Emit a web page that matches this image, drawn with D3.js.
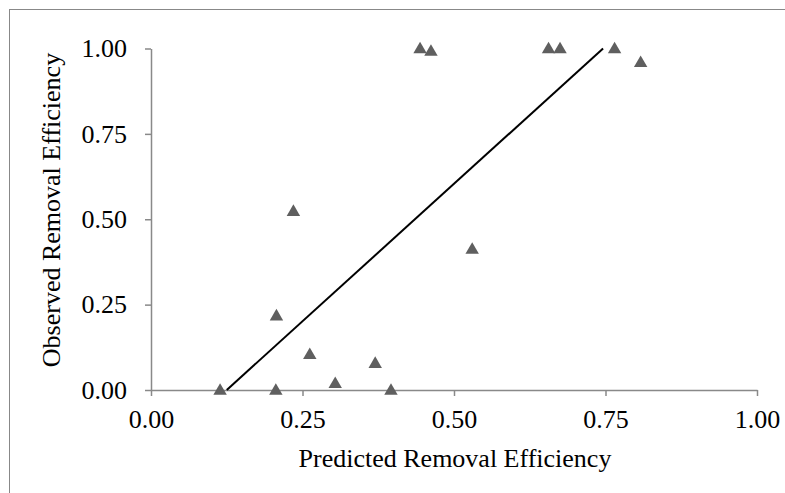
<!DOCTYPE html>
<html>
<head>
<meta charset="utf-8">
<script src="https://cdn.jsdelivr.net/npm/d3@7"></script>
<style>
  html, body { margin: 0; padding: 0; background: #fff; }
  svg { display: block; }
  text { font-family: "Liberation Serif", "Times New Roman", serif; fill: #000; }
</style>
</head>
<body>
<svg id="chart" width="785" height="493"></svg>
<script>
// Data
const predicted = [0.114, 0.206, 0.262, 0.304, 0.370, 0.396, 0.207, 0.235, 0.530, 0.444, 0.462, 0.656, 0.675, 0.765, 0.808];
const observed  = [0.000, 0.000, 0.105, 0.020, 0.079, 0.000, 0.218, 0.524, 0.413, 1.000, 0.993, 1.000, 1.000, 1.000, 0.960];
const fitX = [0.125, 0.746];
const fitY = [0.000, 1.000];
const xTicks = [0, 0.25, 0.5, 0.75, 1.0];
const yTicks = [0, 0.25, 0.5, 0.75, 1.0];
const xTitle = "Predicted Removal Efficiency";
const yTitle = "Observed Removal Efficiency";

const svg = d3.select("#chart");
const W = 785, H = 493;
const margin = { left: 151, right: 28, top: 48.5, bottom: 103 };

// outer frame (cropped at right/bottom)
svg.append("rect")
  .attr("x", 9.5).attr("y", 9.5)
  .attr("width", W).attr("height", H)
  .attr("fill", "none").attr("stroke", "#888").attr("stroke-width", 1);

const x = d3.scaleLinear().domain([0, 1]).range([margin.left, W - margin.right]);
const y = d3.scaleLinear().domain([0, 1]).range([H - margin.bottom, margin.top]);

const fmt = d3.format(".2f");
const axisColor = "#898989";

const xAxis = svg.append("g")
  .attr("transform", `translate(0,${y(0)})`)
  .call(d3.axisBottom(x).tickValues(xTicks).tickFormat(fmt).tickSize(6).tickPadding(14).tickSizeOuter(0));
const yAxis = svg.append("g")
  .attr("transform", `translate(${x(0)},0)`)
  .call(d3.axisLeft(y).tickValues(yTicks).tickFormat(fmt).tickSize(6).tickPadding(18).tickSizeOuter(0));

[xAxis, yAxis].forEach(g => {
  g.select(".domain").attr("stroke", axisColor).attr("stroke-width", 1.5);
  g.selectAll(".tick line").attr("stroke", axisColor).attr("stroke-width", 1.5);
  g.selectAll(".tick text").attr("font-size", 26).attr("fill", "#000")
    .style("font-family", '"Liberation Serif", "Times New Roman", serif');
});

// fit line
svg.append("line")
  .attr("x1", x(fitX[0])).attr("y1", y(fitY[0]))
  .attr("x2", x(fitX[1])).attr("y2", y(fitY[1]))
  .attr("stroke", "#000").attr("stroke-width", 2);

// triangles
const tri = d3.symbol().type(d3.symbolTriangle).size(78);
svg.append("g").selectAll("path")
  .data(predicted.map((p, i) => [p, observed[i]]))
  .join("path")
  .attr("d", tri)
  .attr("transform", d => `translate(${x(d[0])},${y(d[1]) + 1})`)
  .attr("fill", "#5f5f5f");

// titles
svg.append("text")
  .attr("x", 455).attr("y", 467)
  .attr("text-anchor", "middle").attr("font-size", 26)
  .text(xTitle);

svg.append("text")
  .attr("transform", `translate(60,210) rotate(-90)`)
  .attr("text-anchor", "middle").attr("font-size", 26)
  .text(yTitle);
</script>
</body>
</html>
